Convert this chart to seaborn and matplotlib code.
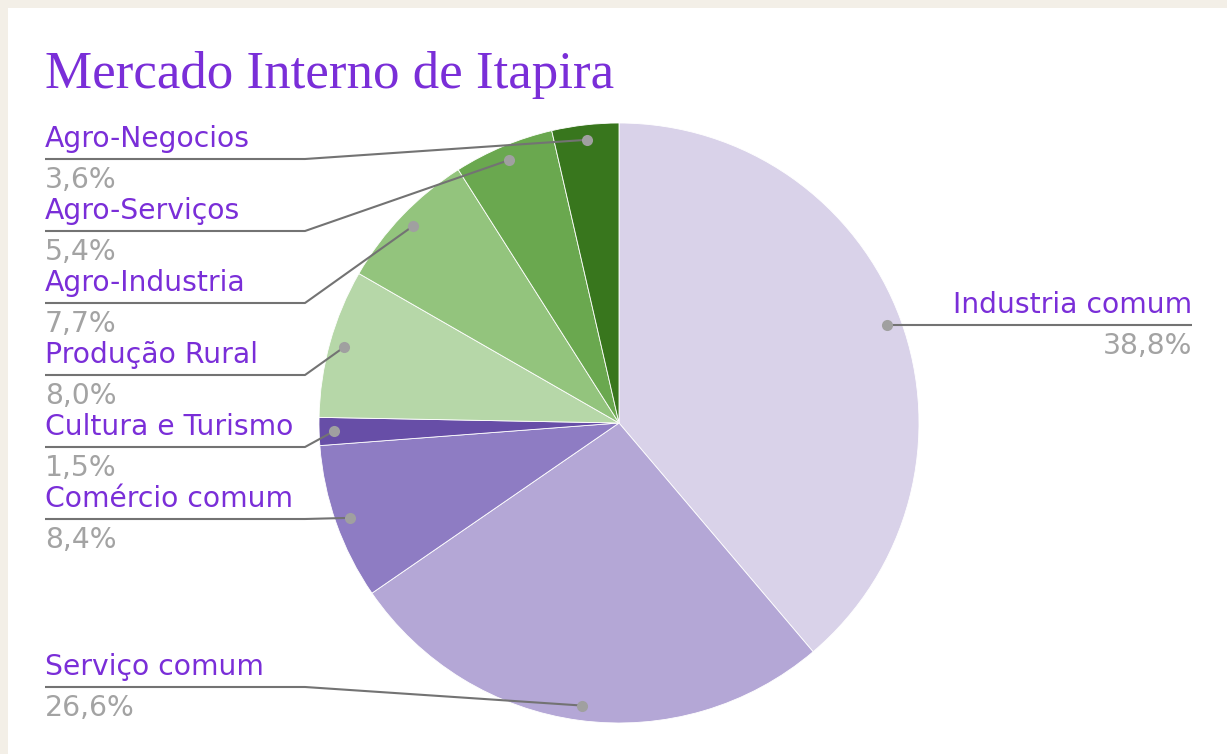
#!/usr/bin/env python3
"""
Mercado Interno de Itapira - pie chart with leader-line labels
"""

import numpy as np
import matplotlib
matplotlib.use("Agg")
import matplotlib.pyplot as plt
from matplotlib.patches import Rectangle
import seaborn as sns

# data, clockwise from 12 o'clock
categories = ['Industria comum', 'Serviço comum', 'Comércio comum', 'Cultura e Turismo',
              'Produção Rural', 'Agro-Industria', 'Agro-Serviços', 'Agro-Negocios']
shares = [38.8, 26.6, 8.4, 1.5, 8.0, 7.7, 5.4, 3.6]
pct_labels = ['38,8%', '26,6%', '8,4%', '1,5%', '8,0%', '7,7%', '5,4%', '3,6%']
slice_colors = ['#d9d2e9', '#b4a7d6', '#8e7cc3', '#674ea7',
                '#b6d7a8', '#93c47d', '#6aa84f', '#38761d']
title = 'Mercado Interno de Itapira'

# layout (pixels, figure is 1227 x 754)
W, H = 1227, 754
CX, CY, R = 619, 423, 300
label_line_y = {'Industria comum': 325, 'Serviço comum': 687, 'Comércio comum': 519,
                'Cultura e Turismo': 447, 'Produção Rural': 375, 'Agro-Industria': 303,
                'Agro-Serviços': 231, 'Agro-Negocios': 159}
LEFT_X, ELBOW_X, RIGHT_X = 45, 305, 1192
PURPLE = '#7a2ed8'
PCT_GRAY = '#a3a3a3'
LINE_GRAY = '#737373'
DOT_GRAY = '#a0a0a0'
LABEL_SIZE = 20.3

sns.set_theme(style='white')
plt.rcParams['font.family'] = ['DejaVu Sans']

fig = plt.figure(figsize=(W / 100, H / 100), dpi=100)
fig.patch.set_facecolor('#f3efe7')
fig.patches.append(Rectangle((8 / W, 0), 1 - 8 / W, 1 - 8 / H, transform=fig.transFigure,
                             facecolor='white', edgecolor='none', zorder=-10))

# pie
ax = fig.add_axes([(CX - R) / W, (H - CY - R) / H, 2 * R / W, 2 * R / H])
ax.pie(shares, colors=slice_colors, startangle=90, counterclock=False, radius=1,
       wedgeprops=dict(edgecolor='white', linewidth=0.6))
ax.set_xlim(-1, 1)
ax.set_ylim(-1, 1)
ax.set_aspect('equal')
ax.axis('off')

# overlay in pixel coordinates for labels
ov = fig.add_axes([0, 0, 1, 1])
ov.set_xlim(0, W)
ov.set_ylim(H, 0)
ov.axis('off')
ov.patch.set_alpha(0)

ov.text(LEFT_X, 88, title, family=['Liberation Serif', 'DejaVu Serif'], fontsize=38.2,
        color=PURPLE, ha='left', va='baseline')

cum = np.cumsum([0] + shares[:-1])
for name, val, start, pct in zip(categories, shares, cum, pct_labels):
    theta = np.deg2rad(90 - (start + val / 2) * 3.6)
    dx = CX + 0.95 * R * np.cos(theta)
    dy = CY - 0.95 * R * np.sin(theta)
    ly = label_line_y[name]
    if dx > CX:
        ov.plot([dx, RIGHT_X], [ly, ly], color=LINE_GRAY, lw=1.5, solid_capstyle='butt')
        ov.text(RIGHT_X, ly - 12, name, fontsize=LABEL_SIZE, color=PURPLE,
                ha='right', va='baseline')
        ov.text(RIGHT_X, ly + 29, pct, fontsize=LABEL_SIZE, color=PCT_GRAY,
                ha='right', va='baseline')
    else:
        ov.plot([LEFT_X, ELBOW_X, dx], [ly, ly, dy], color=LINE_GRAY, lw=1.5,
                solid_capstyle='butt', solid_joinstyle='round')
        ov.text(LEFT_X, ly - 12, name, fontsize=LABEL_SIZE, color=PURPLE,
                ha='left', va='baseline')
        ov.text(LEFT_X, ly + 29, pct, fontsize=LABEL_SIZE, color=PCT_GRAY,
                ha='left', va='baseline')
    ov.plot(dx, dy, 'o', color=DOT_GRAY, ms=8, mec='none')

fig.savefig('out.png', dpi=100, facecolor=fig.get_facecolor())
